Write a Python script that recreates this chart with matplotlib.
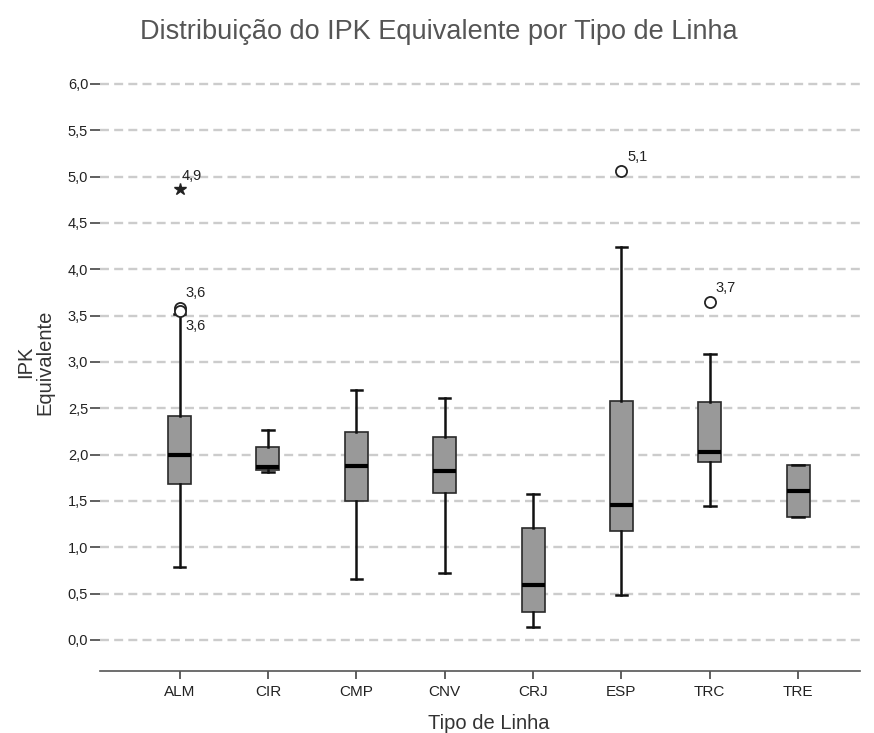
import matplotlib
matplotlib.use("Agg")
import matplotlib.pyplot as plt
from matplotlib.ticker import FuncFormatter, MultipleLocator

plt.rcParams["font.family"] = ["Liberation Sans", "DejaVu Sans"]

# Box plot summary per line type
categories = ["ALM", "CIR", "CMP", "CNV", "CRJ", "ESP", "TRC", "TRE"]
whisker_low = [0.79, 1.81, 0.66, 0.72, 0.14, 0.49, 1.44, 1.33]
q1 = [1.68, 1.83, 1.50, 1.58, 0.30, 1.18, 1.92, 1.33]
median = [2.00, 1.87, 1.88, 1.82, 0.59, 1.46, 2.03, 1.61]
q3 = [2.42, 2.08, 2.24, 2.19, 1.21, 2.58, 2.57, 1.89]
whisker_high = [3.52, 2.26, 2.70, 2.61, 1.57, 4.24, 3.09, 1.89]

# Outliers (circles) and extremes (stars): category index, value, label
outlier_cat = [0, 0, 5, 6]
outlier_val = [3.58, 3.55, 5.06, 3.65]
outlier_lbl = ["3,6", "3,6", "5,1", "3,7"]
outlier_dy = [11, -11, 10, 10]
extreme_cat = [0]
extreme_val = [4.87]
extreme_lbl = ["4,9"]

fig = plt.figure(figsize=(8.74, 7.33), dpi=100)
ax = fig.add_axes([0.1144, 0.0846, 0.8696, 0.82])

stats = []
for i, c in enumerate(categories):
    stats.append({"label": c, "whislo": whisker_low[i], "q1": q1[i], "med": median[i],
                  "q3": q3[i], "whishi": whisker_high[i], "fliers": []})

ax.bxp(stats, positions=range(len(categories)), widths=0.26, patch_artist=True,
       showfliers=False, capwidths=0.13,
       boxprops=dict(facecolor="#999999", edgecolor="#2a2a2a", linewidth=1.2),
       medianprops=dict(color="black", linewidth=3, solid_capstyle="butt"),
       whiskerprops=dict(color="#111111", linewidth=1.8),
       capprops=dict(color="#111111", linewidth=1.8),
       zorder=3)

ax.plot(outlier_cat, outlier_val, "o", markerfacecolor="white", markeredgecolor="#222222",
        markersize=8, markeredgewidth=1.3, zorder=4)
ax.plot(extreme_cat, extreme_val, "*", color="#222222", markersize=9, zorder=4)

for c, v, t, dy in zip(outlier_cat, outlier_val, outlier_lbl, outlier_dy):
    ax.annotate(t, (c, v), xytext=(4, dy), textcoords="offset points",
                fontsize=10.5, color="#222222", va="center")
for c, v, t in zip(extreme_cat, extreme_val, extreme_lbl):
    ax.annotate(t, (c, v), xytext=(1.5, 9), textcoords="offset points",
                fontsize=10.5, color="#222222", va="center")

ax.set_xlim(-0.9, 7.7)
ax.set_ylim(-0.335, 6.15)
ax.yaxis.set_major_locator(MultipleLocator(0.5))
ax.yaxis.set_major_formatter(FuncFormatter(lambda v, p: f"{v:.1f}".replace(".", ",")))
ax.set_xticks(range(len(categories)))
ax.set_xticklabels(categories)

ax.grid(axis="y", color="#cccccc", linestyle=(0, (3.8, 2.2)), linewidth=1.7, zorder=0)
ax.set_axisbelow(True)

for s in ["top", "right", "left"]:
    ax.spines[s].set_visible(False)
ax.spines["bottom"].set_color("#555555")
ax.spines["bottom"].set_linewidth(1.2)

ax.tick_params(axis="y", length=7, width=1.2, color="#444444", labelsize=10.5,
               labelcolor="#222222", pad=1.5)
ax.tick_params(axis="x", length=6, width=1.2, color="#444444", labelsize=11,
               labelcolor="#222222", pad=4)

ax.set_ylabel("IPK\nEquivalente", fontsize=14.5, color="#333333")
ax.yaxis.label.set_linespacing(1.0)
ax.yaxis.set_label_coords(-0.06, 0.514)
ax.set_xlabel("Tipo de Linha", fontsize=14.5, color="#333333")
ax.xaxis.set_label_coords(0.512, -0.0715)
fig.suptitle("Distribuição do IPK Equivalente por Tipo de Linha", x=0.502, y=0.974,
             fontsize=19.5, color="#555555")

fig.savefig("out.png", dpi=100)
